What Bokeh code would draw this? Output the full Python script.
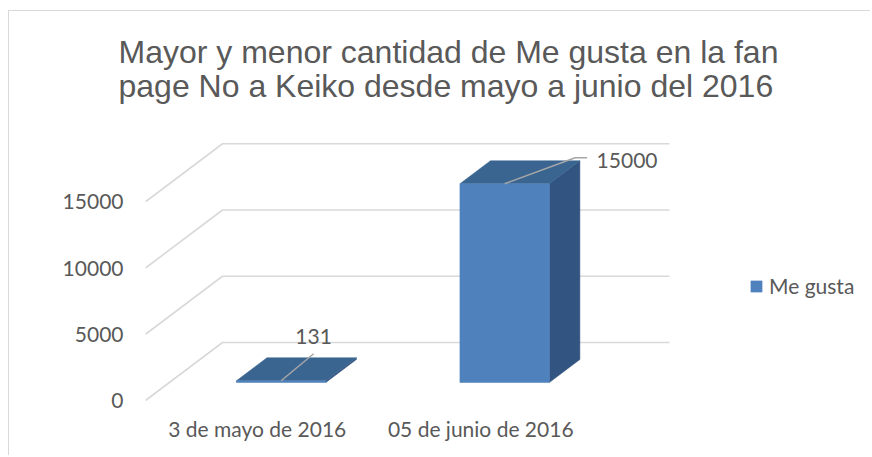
from bokeh.plotting import figure
from bokeh.models import (Range1d, FixedTicker, Legend, LegendItem, Title)
from bokeh.core.properties import value
from bokeh.embed import file_html
from bokeh.resources import INLINE

# ---- data ----
categories = ["3 de mayo de 2016", "05 de junio de 2016"]
series_name = "Me gusta"
me_gusta = [131, 15000]
y_ticks = [0, 5000, 10000, 15000]
title_text = "Mayor y menor cantidad de Me gusta en la fan\npage No a Keiko desde mayo a junio del 2016"

# ---- geometry (pixels) ----
W, H = 862, 445
FL, FR, FT, FB = 136, 862, 108, 404          # frame edges in canvas px
CAT_PX = 223.5                                # px per category
VAL_PX = 0.01325                              # px per value unit
ZERO_PX = 15                                  # value 0 above frame bottom
DEPTH_X_PX, DEPTH_Y_PX = 77, 58               # floor depth vector in px
TITLE_LEFT = 109                              # title left edge, canvas px
LEGEND_X = 740                                # legend left, canvas px

DX = DEPTH_X_PX / CAT_PX
DY = DEPTH_Y_PX / VAL_PX
ZF, ZB = 0.31, 0.707                          # bar front / back depth
BW = 0.4                                      # bar width in category units

x_start = -0.5
x_end = x_start + (FR - FL) / CAT_PX
y_start = -ZERO_PX / VAL_PX
y_end = y_start + (FB - FT) / VAL_PX

TXT = "#595959"
GRID = "#d9d9d9"
FRONT = "#4F81BD"
TOP = "#3B6591"
SIDE = "#325480"

p = figure(width=W, height=H, output_backend="svg", toolbar_location=None,
           x_range=Range1d(x_start, x_end), y_range=Range1d(y_start, y_end),
           min_border_left=FL, min_border_right=W - FR,
           min_border_top=FT, min_border_bottom=H - FB)
p.outline_line_color = None
p.xgrid.visible = False
p.ygrid.visible = False
p.background_fill_color = "white"
p.border_fill_color = "white"
p.styles = {"border-top": "1px solid #d9d9d9", "border-left": "1px solid #d9d9d9"}
p.margin = (10, 0, 0, 8)

# title
p.title = Title(text=title_text, align="left", offset=TITLE_LEFT - FL,
                text_font="Liberation Sans", text_font_size="32px",
                text_font_style="normal", text_color=TXT,
                text_line_height=0.97, standoff=30)

# back-wall / floor gridlines (3D)
n_cats = len(categories)
for v in y_ticks:
    p.line([x_start, x_start + DX, x_start + n_cats + DX], [v, v + DY, v + DY],
           line_color=GRID, line_width=1.6)

# bars
front_r = None
for i, v in enumerate(me_gusta):
    l = i - BW / 2 + ZF * DX
    r = i + BW / 2 + ZF * DX
    b = ZF * DY
    t = v + ZF * DY
    dxb = (ZB - ZF) * DX
    dyb = (ZB - ZF) * DY
    # side face
    p.patch([r, r, r + dxb, r + dxb], [b, t, t + dyb, b + dyb],
            fill_color=SIDE, line_color=SIDE, line_width=0.5)
    # top face
    p.patch([l, r, r + dxb, l + dxb], [t, t, t + dyb, t + dyb],
            fill_color=TOP, line_color=TOP, line_width=0.5)
    # front face
    fr = p.quad(left=[l], right=[r], bottom=[b], top=[max(t, b + 1.5 / VAL_PX)],
                fill_color=FRONT, line_color=FRONT, line_width=0.5)
    if front_r is None:
        front_r = fr

# data labels with leader lines
label_offsets = [(32.5, 27, 0, 32.5, 44), (70.5, 26, 12, 92, 23)]
for i, v in enumerate(me_gusta):
    ax = i + ZF * DX
    ay = v + ZF * DY
    ox, oy, hx, tx, ty = label_offsets[i]
    xs = [ax, ax + ox / CAT_PX, ax + (ox + hx) / CAT_PX]
    ys = [ay, ay + oy / VAL_PX, ay + oy / VAL_PX]
    p.line(xs, ys, line_color="#a6a6a6", line_width=1.5)
    p.text(x=[ax], y=[ay], text=[str(v)], x_offset=tx, y_offset=-ty,
           text_align="center" if i == 0 else "left", text_baseline="middle",
           text_font=value("Lato"), text_font_size="21px", text_color=TXT)

# axes
p.yaxis.ticker = FixedTicker(ticks=y_ticks)
p.yaxis.axis_line_color = None
p.yaxis.major_tick_line_color = None
p.yaxis.minor_tick_line_color = None
p.yaxis.major_tick_out = 0
p.yaxis.major_tick_in = 0
p.yaxis.major_label_standoff = 22
p.yaxis.major_label_text_font = "Lato"
p.yaxis.major_label_text_font_size = "21px"
p.yaxis.major_label_text_color = TXT

p.xaxis.ticker = FixedTicker(ticks=list(range(n_cats)))
p.xaxis.major_label_overrides = {i: c for i, c in enumerate(categories)}
p.xaxis.axis_line_color = None
p.xaxis.major_tick_line_color = None
p.xaxis.minor_tick_line_color = None
p.xaxis.major_tick_out = 0
p.xaxis.major_tick_in = 0
p.xaxis.major_label_standoff = 0
p.xaxis.major_label_text_font = "Lato"
p.xaxis.major_label_text_font_size = "21px"
p.xaxis.major_label_text_color = TXT

# legend
legend = Legend(items=[LegendItem(label=series_name, renderers=[front_r])],
                location=(LEGEND_X - FL, 117), orientation="vertical",
                margin=0, padding=0, spacing=0, border_line_color=None,
                background_fill_alpha=0, glyph_width=14, glyph_height=14,
                label_standoff=6, label_text_font="Lato",
                label_text_font_size="21px", label_text_color=TXT)
p.add_layout(legend)

open("out.html", "w").write(file_html(p, INLINE))
